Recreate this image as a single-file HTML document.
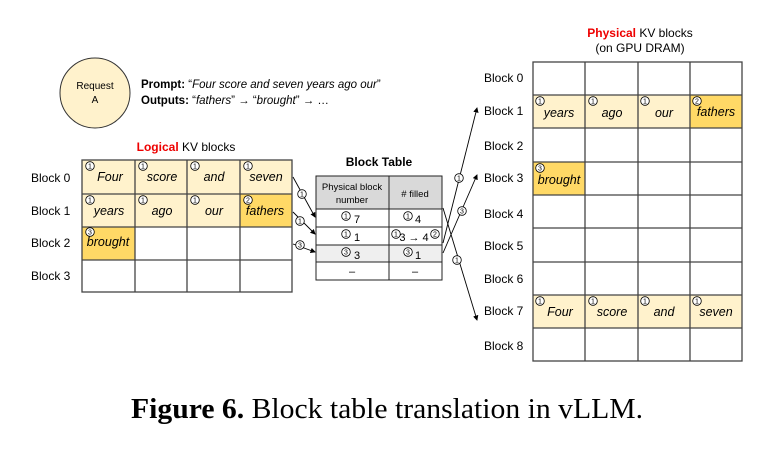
<!DOCTYPE html>
<html><head><style>
body{margin:0;background:#fff;}
svg text{font-family:"Liberation Sans",sans-serif;}
</style></head><body>
<svg width="760" height="450" viewBox="0 0 760 450" xmlns="http://www.w3.org/2000/svg">
<defs>
<marker id="ah" markerWidth="6" markerHeight="6" refX="5" refY="3" orient="auto"><path d="M0,0 L6,3 L0,6 z" fill="#000"/></marker>
<g id="c"><circle r="4.3" fill="#fff" stroke="#000" stroke-width="0.8"/></g>
</defs>
<!-- Request -->
<circle cx="95" cy="93" r="35" fill="#fff2cc" stroke="#333" stroke-width="1"/>
<text x="95" y="89" font-size="10" text-anchor="middle">Request</text>
<text x="95" y="103" font-size="10" text-anchor="middle">A</text>
<text x="141" y="88" font-size="11.5"><tspan font-weight="bold">Prompt:</tspan> “<tspan font-style="italic">Four score and seven years ago our</tspan>”</text>
<text x="141" y="104" font-size="11.5"><tspan font-weight="bold">Outputs:</tspan> “<tspan font-style="italic">fathers</tspan>” → “<tspan font-style="italic">brought</tspan>” → …</text>
<!-- Logical -->
<text x="186" y="151" font-size="12" text-anchor="middle"><tspan fill="#e00" font-weight="bold">Logical</tspan> KV blocks</text>
<g font-size="12">
<text x="31" y="182">Block 0</text><text x="31" y="215">Block 1</text><text x="31" y="247">Block 2</text><text x="31" y="280">Block 3</text>
</g>
<rect x="82" y="160" width="210" height="67" fill="#fff2cc"/>
<rect x="240" y="194" width="52" height="33" fill="#ffd966"/>
<rect x="82" y="227" width="53" height="33" fill="#ffd966"/>
<g stroke="#444" stroke-width="1.3" fill="none">
<rect x="82" y="160" width="210" height="132"/>
<line x1="135" y1="160" x2="135" y2="292"/><line x1="187" y1="160" x2="187" y2="292"/><line x1="240" y1="160" x2="240" y2="292"/>
<line x1="82" y1="194" x2="292" y2="194"/><line x1="82" y1="227" x2="292" y2="227"/><line x1="82" y1="260" x2="292" y2="260"/>
</g>
<g font-size="12.5" font-style="italic" text-anchor="middle">
<text x="110" y="181">Four</text><text x="162" y="181">score</text><text x="214" y="181">and</text><text x="266" y="181">seven</text>
<text x="109" y="215">years</text><text x="162" y="215">ago</text><text x="214" y="215">our</text><text x="265" y="215">fathers</text>
<text x="108" y="246">brought</text>
</g>
<g font-size="7" text-anchor="middle">
<use href="#c" x="90" y="166"/><text x="90" y="168.5">1</text>
<use href="#c" x="143" y="166"/><text x="143" y="168.5">1</text>
<use href="#c" x="195" y="166"/><text x="195" y="168.5">1</text>
<use href="#c" x="248" y="166"/><text x="248" y="168.5">1</text>
<use href="#c" x="90" y="200"/><text x="90" y="202.5">1</text>
<use href="#c" x="143" y="200"/><text x="143" y="202.5">1</text>
<use href="#c" x="195" y="200"/><text x="195" y="202.5">1</text>
<use href="#c" x="248" y="200"/><text x="248" y="202.5">2</text>
<use href="#c" x="90" y="232"/><text x="90" y="234.5">3</text>
</g>
<!-- Block table -->
<text x="379" y="166" font-size="12" font-weight="bold" text-anchor="middle">Block Table</text>
<rect x="316" y="176" width="126" height="33" fill="#d9d9d9"/>
<rect x="316" y="245" width="126" height="17" fill="#efefef"/>
<g stroke="#222" stroke-width="1" fill="none">
<rect x="316" y="176" width="126" height="104"/>
<line x1="389" y1="176" x2="389" y2="280"/>
<line x1="316" y1="209" x2="442" y2="209"/><line x1="316" y1="227" x2="442" y2="227"/><line x1="316" y1="245" x2="442" y2="245"/><line x1="316" y1="262" x2="442" y2="262"/>
</g>
<g font-size="9.5" text-anchor="middle">
<text x="352" y="190">Physical block</text><text x="352" y="203">number</text>
<text x="415" y="197">#  filled</text>
</g>
<g font-size="11" text-anchor="middle">
<text x="357" y="223">7</text><text x="418" y="223">4</text>
<text x="357" y="241">1</text><text x="414" y="241">3 → 4</text>
<text x="357" y="259">3</text><text x="418" y="259">1</text>
<text x="352" y="275">–</text><text x="415" y="275">–</text>
</g>
<g font-size="7" text-anchor="middle">
<use href="#c" x="346" y="216"/><text x="346" y="218.5">1</text>
<use href="#c" x="408" y="216"/><text x="408" y="218.5">1</text>
<use href="#c" x="346" y="234"/><text x="346" y="236.5">1</text>
<use href="#c" x="396" y="234"/><text x="396" y="236.5">1</text>
<use href="#c" x="435" y="234"/><text x="435" y="236.5">2</text>
<use href="#c" x="346" y="252"/><text x="346" y="254.5">3</text>
<use href="#c" x="408" y="252"/><text x="408" y="254.5">3</text>
</g>
<!-- arrows -->
<g stroke="#000" stroke-width="0.9" marker-end="url(#ah)">
<line x1="293" y1="177" x2="315" y2="217"/>
<line x1="293" y1="212" x2="315" y2="234"/>
<line x1="293" y1="244" x2="315" y2="252"/>
<line x1="443" y1="243" x2="477" y2="108"/>
<line x1="443" y1="253" x2="477" y2="175"/>
<line x1="443" y1="208" x2="477" y2="320"/>
</g>
<g font-size="7" text-anchor="middle">
<use href="#c" x="302" y="194"/><text x="302" y="196.5">1</text>
<use href="#c" x="300" y="221"/><text x="300" y="223.5">1</text>
<use href="#c" x="300" y="245"/><text x="300" y="247.5">3</text>
<use href="#c" x="459" y="178"/><text x="459" y="180.5">1</text>
<use href="#c" x="462" y="211"/><text x="462" y="213.5">3</text>
<use href="#c" x="457" y="260"/><text x="457" y="262.5">1</text>
</g>
<!-- Physical -->
<text x="640" y="37" font-size="12" text-anchor="middle"><tspan fill="#e00" font-weight="bold">Physical</tspan> KV blocks</text>
<text x="640" y="52" font-size="12" text-anchor="middle">(on GPU DRAM)</text>
<g font-size="12">
<text x="484" y="82">Block 0</text><text x="484" y="115">Block 1</text><text x="484" y="150">Block 2</text><text x="484" y="182">Block 3</text><text x="484" y="218">Block 4</text><text x="484" y="250">Block 5</text><text x="484" y="283">Block 6</text><text x="484" y="315">Block 7</text><text x="484" y="350">Block 8</text>
</g>
<rect x="533" y="95" width="209" height="33" fill="#fff2cc"/>
<rect x="690" y="95" width="52" height="33" fill="#ffd966"/>
<rect x="533" y="162" width="52" height="33" fill="#ffd966"/>
<rect x="533" y="295" width="209" height="33" fill="#fff2cc"/>
<g stroke="#444" stroke-width="1.3" fill="none">
<rect x="533" y="62" width="209" height="299"/>
<line x1="585" y1="62" x2="585" y2="361"/><line x1="638" y1="62" x2="638" y2="361"/><line x1="690" y1="62" x2="690" y2="361"/>
<line x1="533" y1="95" x2="742" y2="95"/><line x1="533" y1="128" x2="742" y2="128"/><line x1="533" y1="162" x2="742" y2="162"/><line x1="533" y1="195" x2="742" y2="195"/><line x1="533" y1="228" x2="742" y2="228"/><line x1="533" y1="262" x2="742" y2="262"/><line x1="533" y1="295" x2="742" y2="295"/><line x1="533" y1="328" x2="742" y2="328"/>
</g>
<g font-size="12.5" font-style="italic" text-anchor="middle">
<text x="559" y="117">years</text><text x="612" y="117">ago</text><text x="664" y="117">our</text><text x="716" y="116">fathers</text>
<text x="559" y="184">brought</text>
<text x="560" y="316">Four</text><text x="612" y="316">score</text><text x="664" y="316">and</text><text x="716" y="316">seven</text>
</g>
<g font-size="7" text-anchor="middle">
<use href="#c" x="540" y="101"/><text x="540" y="103.5">1</text>
<use href="#c" x="593" y="101"/><text x="593" y="103.5">1</text>
<use href="#c" x="645" y="101"/><text x="645" y="103.5">1</text>
<use href="#c" x="697" y="101"/><text x="697" y="103.5">2</text>
<use href="#c" x="540" y="168"/><text x="540" y="170.5">3</text>
<use href="#c" x="540" y="301"/><text x="540" y="303.5">1</text>
<use href="#c" x="593" y="301"/><text x="593" y="303.5">1</text>
<use href="#c" x="645" y="301"/><text x="645" y="303.5">1</text>
<use href="#c" x="697" y="301"/><text x="697" y="303.5">1</text>
</g>
<!-- caption -->
<text x="387" y="418" font-size="28" text-anchor="middle" textLength="512" lengthAdjust="spacingAndGlyphs" style="font-family:'Liberation Serif',serif"><tspan font-weight="bold">Figure 6.</tspan> Block table translation in vLLM.</text>
</svg>
</body></html>
